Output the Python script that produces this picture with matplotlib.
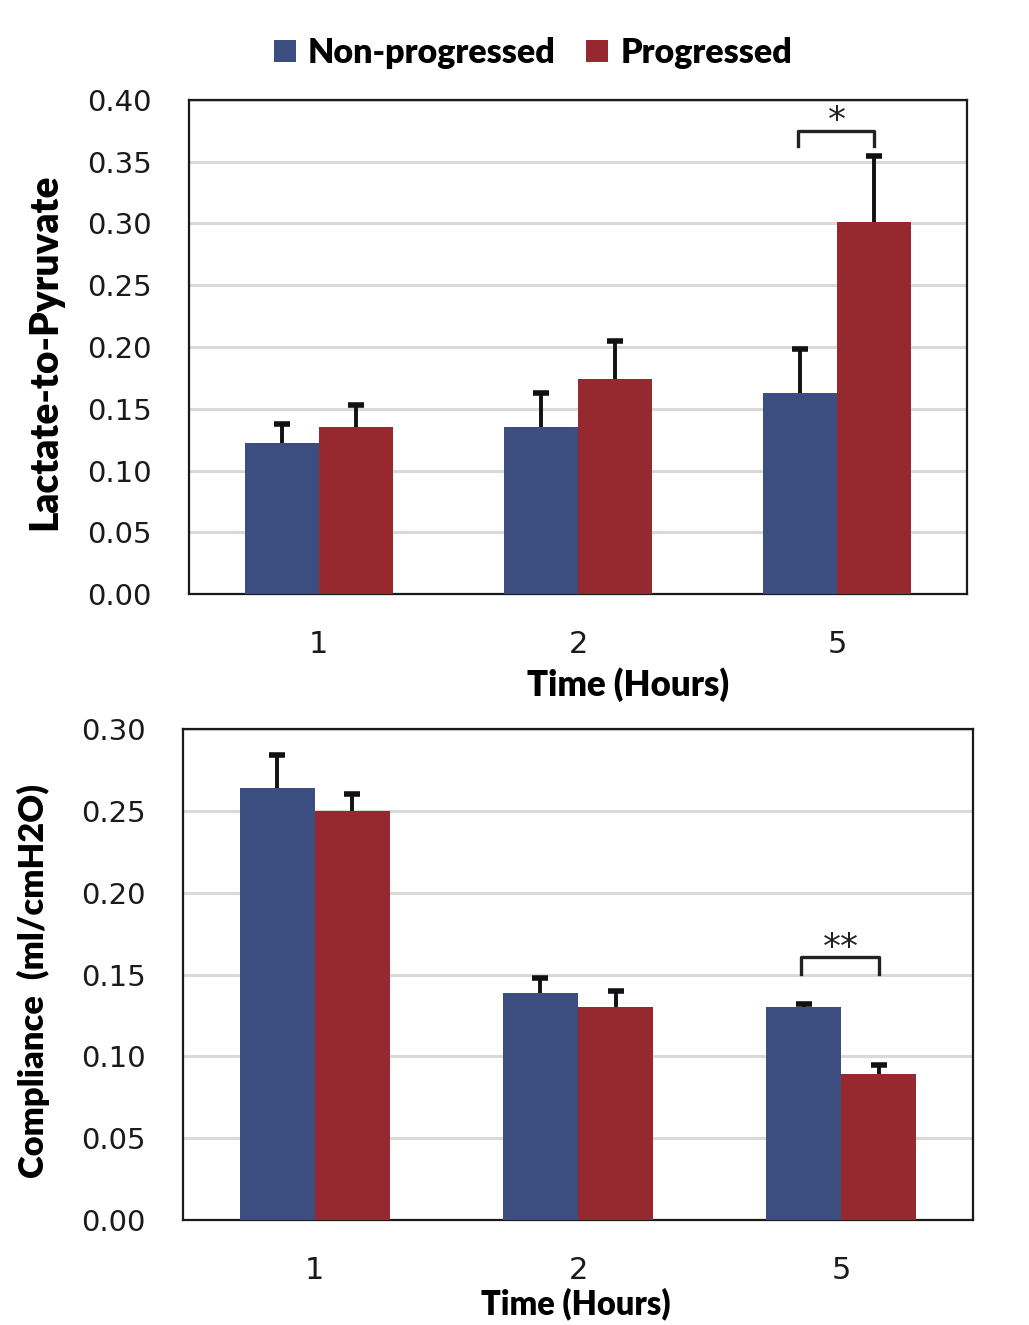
import matplotlib
matplotlib.use("Agg")
import matplotlib.pyplot as plt
from matplotlib.patches import Patch
import numpy as np

hours = ["1", "2", "5"]

# lactate-to-pyruvate ratio (mean, upper SE)
lp_non = [0.122, 0.135, 0.163]
lp_non_err = [0.016, 0.028, 0.035]
lp_prog = [0.135, 0.174, 0.301]
lp_prog_err = [0.018, 0.031, 0.054]

# compliance (ml/cmH2O)
comp_non = [0.264, 0.139, 0.130]
comp_non_err = [0.020, 0.009, 0.002]
comp_prog = [0.250, 0.130, 0.089]
comp_prog_err = [0.010, 0.010, 0.006]

blue = "#3C4E80"
red = "#962930"
grid_c = "#D9D9D5"
w = 0.285

tick_font = "DejaVu Sans"
lab_font = "Lato"

fig = plt.figure(figsize=(10.29, 13.25), dpi=100)
ax1 = fig.add_axes([189 / 1029, 1 - 594 / 1325, 778 / 1029, 494 / 1325])
ax2 = fig.add_axes([183 / 1029, 1 - 1220 / 1325, 790 / 1029, 491 / 1325])


def draw(ax, non, non_err, prog, prog_err, ymax, step):
    x = np.arange(len(hours))
    ax.bar(x - w / 2, non, w, color=blue, zorder=3)
    ax.bar(x + w / 2, prog, w, color=red, zorder=3)
    zeros = [0] * len(hours)
    ek = dict(fmt="none", ecolor="#111111", elinewidth=2.8, capsize=6, capthick=4, zorder=4)
    for xs, vals, errs in [(x - w / 2, non, non_err), (x + w / 2, prog, prog_err)]:
        eb = ax.errorbar(xs, vals, yerr=[zeros, errs], **ek)
        eb[1][0].set_visible(False)  # only the upper cap
    ax.set_xlim(-0.5, len(hours) - 0.5)
    ax.set_ylim(0, ymax)
    ticks = np.arange(0, ymax + step / 2, step)
    ax.set_yticks(ticks)
    ax.set_yticklabels(["%.2f" % t for t in ticks], fontfamily=tick_font, fontsize=21)
    ax.set_xticks(x)
    ax.set_xticklabels(hours, fontfamily=tick_font, fontsize=22)
    ax.tick_params(axis="y", length=0, pad=27, colors="#1a1a1a")
    ax.tick_params(axis="x", length=0, pad=26, colors="#1a1a1a")
    ax.yaxis.grid(True, color=grid_c, linewidth=2.2, zorder=0)
    ax.set_axisbelow(True)
    for s in ax.spines.values():
        s.set_linewidth(1.6)
        s.set_color("#1a1a1a")


def bracket(ax, i, y0, y1, label, ytext):
    xl = i - w / 2 - 0.01
    xr = i + w / 2
    ax.plot([xl, xl, xr, xr], [y0, y1, y1, y0], color="#222222", lw=2.4, zorder=5)
    ax.text(i, ytext, label, ha="center", va="center",
            fontsize=26, fontfamily=tick_font, color="#222222")


draw(ax1, lp_non, lp_non_err, lp_prog, lp_prog_err, 0.40, 0.05)
draw(ax2, comp_non, comp_non_err, comp_prog, comp_prog_err, 0.30, 0.05)

bracket(ax1, 2, 0.3624, 0.375, "*", 0.383)
bracket(ax2, 2, 0.1504, 0.1604, "**", 0.166)

fig.text(628 / 1029, 1 - 685 / 1325, "Time (Hours)", ha="center", va="center",
         fontsize=25, fontweight="heavy", fontfamily=lab_font)
fig.text(576 / 1029, 1 - 1304 / 1325, "Time (Hours)", ha="center", va="center",
         fontsize=23.5, fontweight="heavy", fontfamily=lab_font)
fig.text(45 / 1029, 1 - 352 / 1325, "Lactate-to-Pyruvate", ha="center", va="center",
         rotation=90, fontsize=28, fontweight="heavy", fontfamily=lab_font)
fig.text(33 / 1029, 1 - 981 / 1325, "Compliance  (ml/cmH2O)", ha="center", va="center",
         rotation=90, fontsize=24.8, fontweight="heavy", fontfamily=lab_font)

handles = [Patch(facecolor=blue, label="Non-progressed"),
           Patch(facecolor=red, label="Progressed")]
fig.legend(handles=handles, loc="center", bbox_to_anchor=(533 / 1029, 1 - 53 / 1325),
           ncol=2, frameon=False, handlelength=0.65, handleheight=0.65, handletextpad=0.35,
           columnspacing=0.9, prop={"family": lab_font, "weight": "heavy", "size": 24.5})

fig.savefig("out.png", dpi=100)
